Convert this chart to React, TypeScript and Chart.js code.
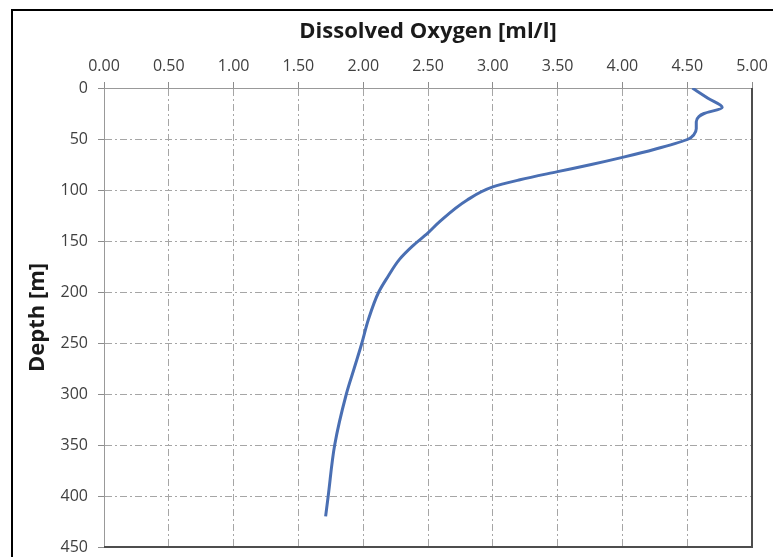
import React, { useEffect, useRef } from "react";
import { Chart, registerables } from "chart.js";

Chart.register(...registerables);

// Depth [m] and dissolved oxygen [ml/l]
const depths = [0, 10, 19, 25, 28, 33, 40, 46, 50, 60, 68, 75, 82, 90, 97, 110, 131, 142, 155, 168, 185, 200, 227, 250, 275, 300, 350, 400, 420];
const oxygen = [4.54, 4.66, 4.77, 4.63, 4.59, 4.57, 4.57, 4.55, 4.51, 4.25, 4.0, 3.76, 3.5, 3.21, 3.0, 2.8, 2.59, 2.5, 2.38, 2.28, 2.19, 2.12, 2.04, 1.99, 1.93, 1.87, 1.78, 1.73, 1.71];

const xTitle = "Dissolved Oxygen [ml/l]";
const yTitle = "Depth [m]";
const xMin = 0, xMax = 5, xStep = 0.5;
const yMin = 0, yMax = 450, yStep = 50;

const FONT = "'Open Sans', 'Noto Sans', sans-serif";

const framePlugin = {
  id: "framePlugin",
  afterDraw(chart: any) {
    const { ctx, chartArea } = chart;
    ctx.save();
    ctx.strokeStyle = "#4d4d4d";
    ctx.lineWidth = 2;
    ctx.beginPath();
    ctx.moveTo(chartArea.right, chartArea.top);
    ctx.lineTo(chartArea.right, chartArea.bottom);
    ctx.lineTo(chartArea.left, chartArea.bottom);
    ctx.stroke();
    ctx.strokeStyle = "#000";
    ctx.lineWidth = 2;
    ctx.strokeRect(12, 10, 900, 700);
    ctx.restore();
  },
};

export default function App() {
  const ref = useRef<HTMLCanvasElement>(null);
  useEffect(() => {
    document.body.style.margin = "0";
    const chart = new Chart(ref.current!, {
      type: "line",
      data: {
        datasets: [
          {
            data: depths.map((d, i) => ({ x: oxygen[i], y: d })),
            borderColor: "#4a6fb3",
            borderWidth: 3,
            pointRadius: 0,
            pointHitRadius: 0,
            cubicInterpolationMode: "monotone",
            fill: false,
          },
        ],
      },
      options: {
        animation: false,
        responsive: true,
        maintainAspectRatio: false,
        indexAxis: "y",
        layout: { autoPadding: false, padding: { left: 0, top: 0, right: 21, bottom: 10 } },
        plugins: { legend: { display: false }, tooltip: { enabled: false } },
        scales: {
          x: {
            type: "linear",
            position: "top",
            min: xMin,
            max: xMax,
            afterFit: (s: any) => {
              s.height = 88;
              s.paddingLeft = 0; s.paddingRight = 0; s.paddingTop = 0; s.paddingBottom = 0;
            },
            ticks: {
              stepSize: xStep,
              padding: 6,
              color: "#404040",
              font: { family: FONT, size: 16 },
              callback: (v: any) => Number(v).toFixed(2),
            },
            grid: { color: "#a6a6a6", lineWidth: 1, tickLength: 6, tickColor: "#8c8c8c" },
            border: { display: true, color: "#999999", width: 1, dash: [7, 3, 2, 3] },
            title: {
              display: true,
              text: xTitle,
              color: "#1a1a1a",
              font: { family: FONT, size: 22, weight: "bold" },
              padding: { top: 19, bottom: 0 },
            },
          },
          y: {
            type: "linear",
            reverse: true,
            min: yMin,
            max: yMax,
            afterFit: (s: any) => {
              s.width = 104;
              s.paddingLeft = 0; s.paddingRight = 0; s.paddingTop = 0; s.paddingBottom = 0;
            },
            ticks: {
              stepSize: yStep,
              padding: 10,
              color: "#404040",
              font: { family: FONT, size: 16 },
            },
            grid: { color: "#a6a6a6", lineWidth: 1, tickLength: 6, tickColor: "#8c8c8c" },
            border: { display: true, color: "#999999", width: 1, dash: [7, 3, 2, 3] },
            title: {
              display: true,
              text: yTitle,
              color: "#1a1a1a",
              font: { family: FONT, size: 22, weight: "bold" },
              padding: { top: 25, bottom: 0 },
            },
          },
        },
      },
      plugins: [framePlugin],
    } as any);
    return () => chart.destroy();
  }, []);
  return (
    <div style={{ position: "absolute", left: 0, top: 0, width: 773, height: 557 }}>
      <canvas ref={ref} />
    </div>
  );
}
